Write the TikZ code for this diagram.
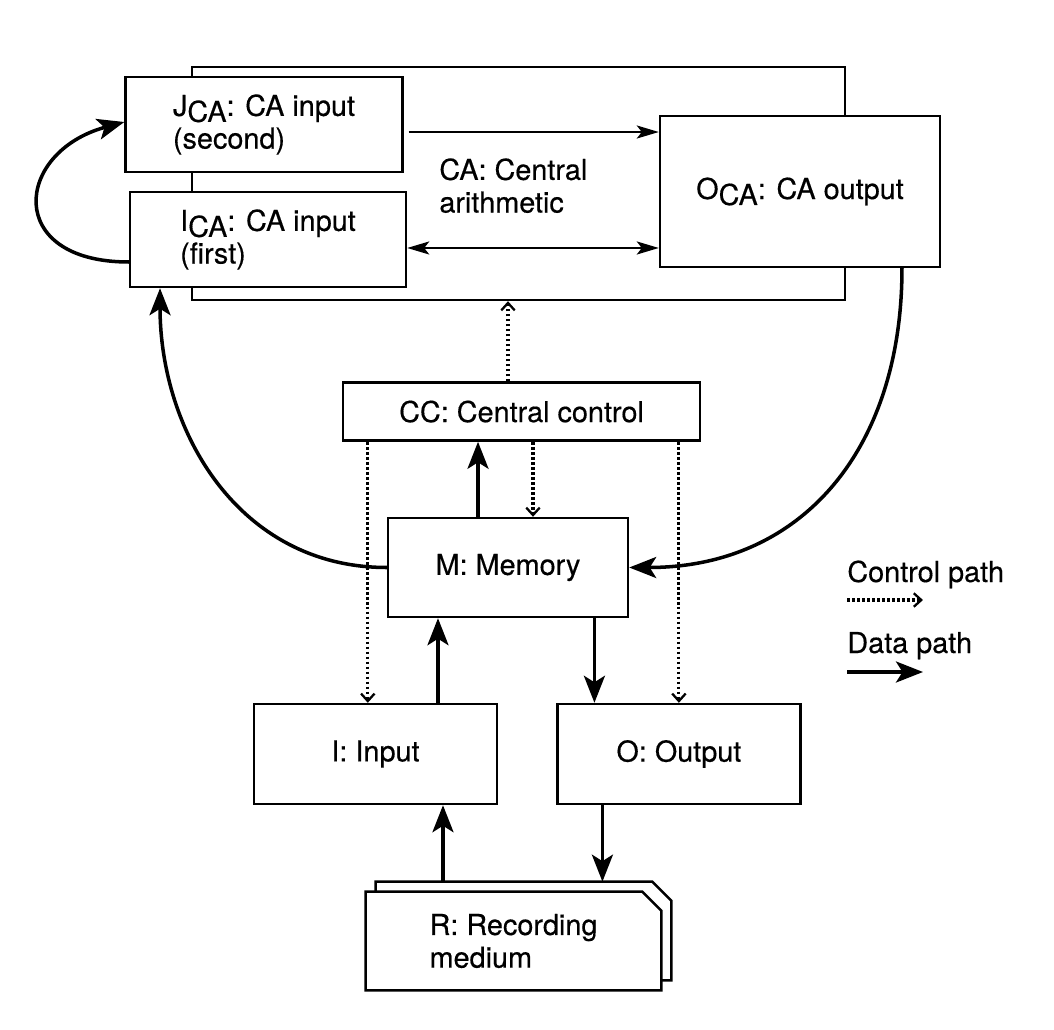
\documentclass[tikz,border=0pt]{standalone}
\usepackage{fontspec}
\setmainfont{TeX Gyre Heros}[FakeBold=0.4]
\usetikzlibrary{positioning, arrows.meta, backgrounds}
\newcommand{\lowsub}[1]{\raisebox{-0.12cm}{#1}}

\begin{document}
\begin{tikzpicture}[x=0.02cm, y=-0.02cm, font=\fontsize{16.4}{18.6}\selectfont,
    main/.style = {draw, rectangle, fill=white, line width=1.4pt, inner sep=0pt},
    tag/.style = {inner sep=0pt, align=left},
    legend/.style = {inner sep=0pt, anchor=base west},
    data/.style = {line width=2pt, -{Stealth[length=0.54cm, width=0.42cm, inset=0.13cm]}},
    flow/.style = {line width=1.3pt, -{Stealth[length=0.44cm, width=0.26cm, inset=0.1cm]}},
    both/.style = {line width=1.3pt, {Stealth[length=0.44cm, width=0.26cm, inset=0.1cm]}-{Stealth[length=0.44cm, width=0.26cm, inset=0.1cm]}},
    ctrl/.style = {line width=1.8pt, dash pattern=on 0.055cm off 0.045cm, -{Straight Barb[length=0.15cm, width=0.27cm, line width=1.3pt]}}]
    \useasboundingbox (0,0) rectangle (1054,1030);

    % central arithmetic
    \node[main, minimum width=13.06cm, minimum height=4.66cm] (CA) at (518.5,183.5) {};
    \node[main, minimum width=5.54cm, minimum height=1.9cm, align=left] (JCA) at (264,124.5) {J\lowsub{CA}: CA input\\(second)};
    \node[main, minimum width=5.52cm, minimum height=1.9cm, align=left] (ICA) at (268,239.5) {I\lowsub{CA}: CA input\\(first)};
    \node[main, minimum width=5.6cm, minimum height=3.02cm] (OCA) at (800,191.5) {O\lowsub{CA}: CA output};
    \node[tag, anchor=north west] (CAlbl) at (439,158) {CA: Central\\arithmetic};

    % control, memory, input/output
    \node[main, minimum width=4.8cm, minimum height=1.98cm] (M) at (508,567.5) {M: Memory};
    \node[main, minimum width=7.14cm, minimum height=1.16cm] (CC) [above=1.5cm of M, xshift=0.27cm] {CC: Central control};
    \node[main, minimum width=4.86cm, minimum height=2cm] (I) at (375.5,754) {I: Input};
    \node[main, minimum width=4.86cm, minimum height=2cm] (O) [right=1.16cm of I] {O: Output};

    % recording medium
    \node[tag, minimum width=5.9cm, minimum height=1.96cm] (R) at (513.5,941) {R: Recording\\medium};
    \node[inner sep=0pt, minimum width=5.9cm, minimum height=1.96cm] (Rb) at ([shift={(0.2cm,0.2cm)}]R.center) {};
    \begin{scope}[on background layer]
        \foreach \r in {Rb, R}
            \draw[fill=white, line width=1.4pt] (\r.south west) -- (\r.north west) -- ([xshift=-0.38cm]\r.north east) -- ([yshift=-0.38cm]\r.north east) -- (\r.south east) -- cycle;
    \end{scope}

    % legend
    \node[legend] (cp) at (847,582) {Control path};
    \node[legend] (dp) at (847,653) {Data path};
    \coordinate (cp1) at ([yshift=-0.36cm]cp.base west);
    \coordinate (cp2) at ([xshift=1.52cm]cp1);
    \coordinate (dp1) at ([yshift=-0.38cm]dp.base west);
    \coordinate (dp2) at ([xshift=1.52cm]dp1);
    \draw[ctrl] (cp1) -- (cp2);
    \draw[data] (dp1) -- (dp2);

    % inside CA
    \coordinate (jo) at ([yshift=1.19cm]OCA.west);
    \coordinate (io) at ([yshift=-1.13cm]OCA.west);
    \draw[flow, shorten <=0.1cm] (JCA.east |- jo) -- (jo);
    \draw[both] (ICA.east |- io) -- (io);
    \draw[data] ([yshift=-0.45cm]ICA.west) .. controls +(-2.5cm,0) and +(-2.2cm,-0.6cm) .. ([yshift=0.05cm]JCA.west);

    % control paths
    \draw[ctrl] (M.north |- CC.north) -- (M.north |- CA.south);
    \draw[ctrl] ([xshift=0.5cm]M.north |- CC.south) -- ([xshift=0.5cm]M.north);
    \draw[ctrl] ([xshift=0.52cm]CC.south west) -- ([xshift=0.52cm]CC.south west |- I.north);
    \draw[ctrl] (O.north |- CC.south) -- (O.north);

    % data paths
    \draw[data] ([xshift=-0.6cm]M.north) -- ([xshift=-0.6cm]M.north |- CC.south);
    \draw[data] ([xshift=1.25cm]I.north) -- ([xshift=1.25cm]I.north |- M.south);
    \draw[data] ([xshift=-1.69cm]O.north |- M.south) -- ([xshift=-1.69cm]O.north);
    \draw[data] ([xshift=1.35cm]I.south |- Rb.north) -- ([xshift=1.35cm]I.south);
    \draw[data] ([xshift=-1.53cm]O.south) -- ([xshift=-1.53cm]O.south |- Rb.north);
    \draw[data] (M.west) .. controls +(-2.96cm,0) and +(0,-2.86cm) .. ([xshift=-2.16cm]ICA.south);
    \draw[data] ([xshift=2.04cm]OCA.south) .. controls +(0,-3.64cm) and +(3.44cm,0) .. (M.east);
\end{tikzpicture}
\end{document}
